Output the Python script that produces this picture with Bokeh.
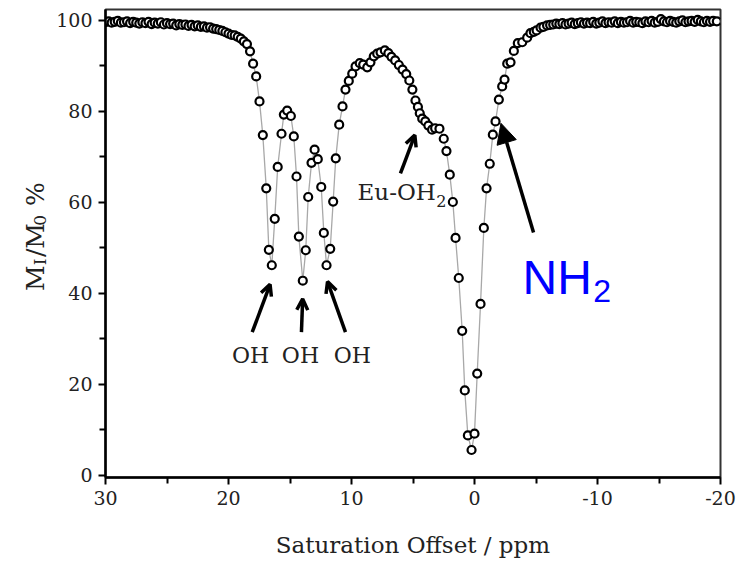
import math
from bokeh.plotting import figure
from bokeh.layouts import row
from bokeh.models import Range1d, FixedTicker, Label, Arrow, NormalHead, OpenHead
from bokeh.core.properties import value
from bokeh.embed import file_html
from bokeh.resources import INLINE

# ---------------- data ----------------
offset_ppm = [
    30.0, 29.75, 29.5, 29.25, 29.0, 28.75, 28.5, 28.25, 28.0, 27.75,
    27.5, 27.25, 27.0, 26.75, 26.5, 26.25, 26.0, 25.75, 25.5, 25.25,
    25.0, 24.75, 24.5, 24.25, 24.0, 23.75, 23.5, 23.25, 23.0, 22.75,
    22.5, 22.25, 22.0, 21.75, 21.5, 21.25, 21.0, 20.75, 20.5, 20.25,
    20.0, 19.75, 19.5, 19.25, 19.0, 18.75, 18.5, 18.25, 18.0, 17.75,
    17.48, 17.21, 16.93, 16.72, 16.48, 16.24, 16.0, 15.69, 15.5, 15.23,
    14.93, 14.69, 14.47, 14.28, 13.96, 13.72, 13.52, 13.25, 13.0, 12.74,
    12.46, 12.25, 12.03, 11.73, 11.49, 11.28, 11.0, 10.73, 10.49, 10.22,
    9.94, 9.67, 9.33, 9.05, 8.72, 8.46, 8.19, 7.91, 7.64, 7.29,
    7.0, 6.75, 6.45, 6.15, 5.85, 5.55, 5.3, 5.05, 4.8, 4.6,
    4.45, 4.25, 4.0, 3.75, 3.45, 3.2, 2.85, 2.5, 2.28, 2.01,
    1.76, 1.54, 1.28, 1.0, 0.79, 0.54, 0.24, 0.0, -0.22, -0.49,
    -0.76, -0.98, -1.24, -1.49, -1.71, -1.98, -2.25, -2.44, -2.66, -2.93,
    -3.2, -3.52, -3.88, -4.28, -4.55, -4.82, -5.05, -5.37, -5.6, -5.9,
    -6.15, -6.4, -6.65, -6.9, -7.15, -7.4, -7.65, -7.9, -8.15, -8.4,
    -8.65, -8.9, -9.15, -9.4, -9.65, -9.9, -10.15, -10.4, -10.65, -10.9,
    -11.15, -11.4, -11.65, -11.9, -12.15, -12.4, -12.65, -12.9, -13.15, -13.4,
    -13.65, -13.9, -14.15, -14.4, -14.65, -14.9, -15.15, -15.4, -15.65, -15.9,
    -16.15, -16.4, -16.65, -16.9, -17.15, -17.4, -17.65, -17.9, -18.15, -18.4,
    -18.65, -18.9, -19.15, -19.4, -19.7,
]
mz_percent = [
    99.6, 99.8, 99.5, 99.7, 99.9, 99.5, 99.6, 99.8, 99.4, 99.7,
    99.5, 99.3, 99.6, 99.4, 99.7, 99.2, 99.5, 99.3, 99.6, 99.1,
    99.4, 99.2, 99.3, 98.9, 99.2, 99.0, 99.1, 98.8, 99.0, 98.7,
    98.9, 98.6, 98.7, 98.4, 98.5, 98.2, 98.1, 97.9, 97.7, 97.4,
    97.1, 96.8, 96.7, 96.4, 96.0, 95.4, 94.8, 93.2, 90.5, 87.7,
    82.2, 74.8, 63.1, 49.6, 46.2, 56.4, 67.8, 75.1, 79.3, 80.2,
    79.0, 74.5, 65.7, 52.5, 42.8, 49.5, 61.2, 68.7, 71.6, 69.5,
    63.4, 53.3, 46.2, 49.8, 60.2, 69.7, 77.1, 81.1, 84.8, 86.7,
    88.3, 89.9, 90.6, 90.3, 89.7, 90.8, 92.1, 92.7, 93.0, 93.4,
    92.8, 92.0, 91.2, 90.2, 89.2, 88.2, 86.8, 84.8, 82.4, 81.0,
    79.6, 78.4, 77.8, 76.9, 76.0, 76.3, 76.2, 74.0, 71.3, 66.1,
    60.1, 52.2, 43.4, 31.8, 18.7, 8.8, 5.6, 9.2, 22.4, 37.7,
    54.4, 63.1, 68.5, 74.9, 77.8, 82.6, 85.5, 87.0, 90.5, 90.8,
    93.3, 95.0, 95.2, 96.2, 97.2, 97.5, 97.8, 98.4, 98.6, 98.9,
    99.0, 99.1, 99.3, 99.2, 99.4, 99.1, 99.3, 99.5, 99.2, 99.4,
    99.6, 99.3, 99.5, 99.4, 99.7, 99.3, 99.5, 99.8, 99.4, 99.6,
    99.5, 99.8, 99.4, 99.7, 99.5, 99.6, 99.9, 99.5, 99.7, 99.6,
    99.4, 99.8, 99.6, 99.9, 99.5, 99.7, 100.3, 99.8, 99.6, 99.9,
    99.7, 99.5, 99.8, 100.0, 99.6, 99.8, 99.9, 99.7, 100.1, 99.8,
    99.6, 99.9, 99.7, 99.9, 99.8,
]
x_major_ticks = [30, 20, 10, 0, -10, -20]
x_minor_ticks = [25, 15, 5, -5, -15]
y_major_ticks = [0, 20, 40, 60, 80, 100]
y_minor_ticks = [10, 30, 50, 70, 90]
x_tick_text = {30: "30", 20: "20", 10: "10", 0: "0", -10: "-10", -20: "-20"}
y_title_parts = ["M", "I", "/", "M", "0", "%"]

SERIF = "DejaVu Serif"
TXT = "#222222"
LEFT_W = 50

# ---------------- left strip holding the rotated y title ----------------
pl = figure(width=LEFT_W, height=567, x_range=Range1d(0, LEFT_W), y_range=Range1d(0, 567),
            x_axis_type=None, y_axis_type=None, min_border=0,
            output_backend="svg", toolbar_location=None)
pl.outline_line_color = None
pl.xgrid.visible = False
pl.ygrid.visible = False
pl.background_fill_color = "white"
pl.border_fill_color = "white"
big = [0, 2, 3, 5]
small = [1, 4]
part_cy = [341, 310, 300, 290, 262, 238]      # canvas y where each piece starts
part_cx = [35, 39, 35, 35, 39, 35]            # canvas x of each baseline
pl.text(x=[part_cx[i] for i in big], y=[567 - part_cy[i] for i in big],
        text=[y_title_parts[i] for i in big], angle=math.pi / 2,
        text_font=value(SERIF), text_font_size=value("25px"), text_color=TXT,
        text_align="left", text_baseline="alphabetic")
pl.text(x=[part_cx[i] for i in small], y=[567 - part_cy[i] for i in small],
        text=[y_title_parts[i] for i in small], angle=math.pi / 2,
        text_font=value(SERIF), text_font_size=value("17px"), text_color=TXT,
        text_align="left", text_baseline="alphabetic")

# ---------------- main plot ----------------
p = figure(width=746 - LEFT_W, height=567,
           x_range=Range1d(30, -20), y_range=Range1d(-0.44, 102.4),
           output_backend="svg", toolbar_location=None,
           min_border_left=105 - LEFT_W, min_border_right=26,
           min_border_top=9, min_border_bottom=90)
p.background_fill_color = "white"
p.border_fill_color = "white"
p.xgrid.visible = False
p.ygrid.visible = False
p.outline_line_color = "#333333"
p.outline_line_width = 2

p.line(offset_ppm, mz_percent, line_color="#a8a8a8", line_width=1.3)
p.scatter(offset_ppm, mz_percent, marker="circle", size=8,
          fill_color="white", line_color="black", line_width=2.2)

for ax, maj, mnr in ((p.xaxis, x_major_ticks, x_minor_ticks),
                     (p.yaxis, y_major_ticks, y_minor_ticks)):
    ax.ticker = FixedTicker(ticks=maj, minor_ticks=mnr)
    ax.axis_line_width = 2.5
    ax.axis_line_color = "black"
    ax.major_tick_line_width = 2
    ax.minor_tick_line_width = 2
    ax.major_tick_in = 0
    ax.minor_tick_in = 0
    ax.major_tick_out = 7
    ax.minor_tick_out = 6
    ax.major_label_text_font = SERIF
    ax.major_label_text_font_size = "19px"
    ax.major_label_text_color = TXT

p.xaxis.major_label_overrides = x_tick_text
p.xaxis.major_label_standoff = 6
p.yaxis.major_label_standoff = 6
p.xaxis.axis_label = "Saturation Offset / ppm"
p.xaxis.axis_label_text_font = SERIF
p.xaxis.axis_label_text_font_size = "23px"
p.xaxis.axis_label_text_font_style = "normal"
p.xaxis.axis_label_text_color = TXT
p.xaxis.axis_label_standoff = 24

# ---- annotations ----
for xx in (18.21, 14.15, 9.94):
    p.add_layout(Label(x=xx, y=26.4, text="OH", text_align="center",
                       text_baseline="alphabetic", text_font=SERIF,
                       text_font_size="22px", text_color=TXT))

p.add_layout(Label(x=9.51, y=62.2, text="Eu-OH", text_align="left",
                   text_baseline="alphabetic", text_font=SERIF,
                   text_font_size="23px", text_color=TXT))
p.add_layout(Label(x=3.1, y=60.4, text="2", text_align="left",
                   text_baseline="alphabetic", text_font=SERIF,
                   text_font_size="16px", text_color=TXT))

p.add_layout(Label(x=-3.90, y=43.5, text="NH", text_align="left",
                   text_baseline="alphabetic", text_font="Liberation Sans",
                   text_font_size="48px", text_color="#0000ff"))
p.add_layout(Label(x=-9.65, y=40.5, text="2", text_align="left",
                   text_baseline="alphabetic", text_font="Liberation Sans",
                   text_font_size="32px", text_color="#0000ff"))

arrows = [(18.07, 31.5, 16.62, 42.0),
          (14.07, 31.5, 13.97, 38.8),
          (10.49, 31.5, 11.95, 42.6),
          (6.02, 66.4, 4.85, 74.8)]
for xs, ys, xe, ye in arrows:
    p.add_layout(Arrow(end=OpenHead(size=11, line_width=3.5, line_color="black"),
                       x_start=xs, y_start=ys, x_end=xe, y_end=ye,
                       line_width=3.5, line_color="black"))
p.add_layout(Arrow(end=NormalHead(size=20, fill_color="black", line_color="black"),
                   x_start=-4.8, y_start=53.4, x_end=-2.15, y_end=77.4,
                   line_width=3.5, line_color="black"))

layout = row(pl, p, spacing=0)
open("out.html", "w").write(file_html(layout, INLINE))
